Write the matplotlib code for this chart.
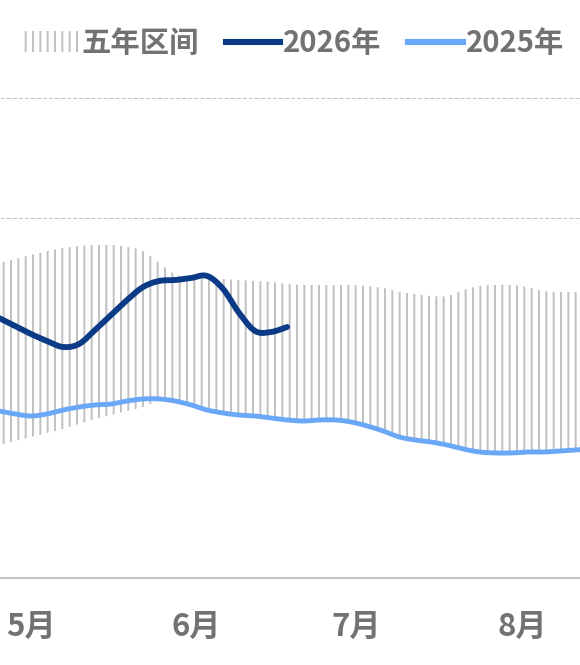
import numpy as np
import pandas as pd
import matplotlib
matplotlib.use('Agg')
import matplotlib.pyplot as plt
import matplotlib.dates as mdates
from matplotlib.patches import Patch
from matplotlib.lines import Line2D

plt.rcParams['font.family'] = ['Noto Sans CJK SC', 'DejaVu Sans']
plt.rcParams['hatch.linewidth'] = 1.6

# sample dates, every 3 days from Apr 25
dates = pd.date_range('2026-04-25', periods=38, freq='3D')

# five-year range
range_high = [262.5, 265.8, 269.2, 272.5, 275.0, 276.7, 277.5, 277.5, 275.8, 272.5,
              262.5, 253.3, 250.0, 249.2, 249.2, 248.3, 247.5, 246.7, 245.0, 244.2,
              244.2, 244.2, 244.2, 243.3, 241.7, 238.3, 236.7, 235.0, 235.0, 240.0,
              243.3, 244.2, 244.2, 242.5, 239.2, 238.3, 238.3, 238.3]
range_low = [110.8, 114.2, 117.5, 120.8, 124.2, 128.3, 132.5, 135.8, 139.2, 142.5,
             147.5, 146.5, 143.2, 139.0, 136.5, 134.8, 134.0, 132.3, 130.7, 129.8,
             130.7, 130.7, 129.0, 125.7, 121.5, 116.5, 114.0, 112.3, 109.8, 106.5,
             104.0, 103.2, 103.2, 104.0, 104.0, 104.8, 105.7, 106.5]

y2025 = [139.2, 136.7, 135.0, 136.7, 140.0, 142.5, 144.2, 145.0, 147.5, 149.2,
         149.2, 147.5, 144.2, 140.0, 137.5, 135.8, 135.0, 133.3, 131.7, 130.8,
         131.7, 131.7, 130.0, 126.7, 122.5, 117.5, 115.0, 113.3, 110.8, 107.5,
         105.0, 104.2, 104.2, 105.0, 105.0, 105.8, 106.7, 107.5]

y2026 = [216.7, 210.0, 203.3, 197.5, 192.5, 195.0, 206.7, 219.2, 231.7, 242.5,
         247.5, 248.3, 250.0, 251.7, 240.8, 220.8, 205.8, 205.0, 209.2]

month_ticks = ['2026-05-01', '2026-06-01', '2026-07-01', '2026-08-01']
month_labels = ['5月', '6月', '7月', '8月']

c2026 = '#0b3a86'
c2025 = '#6aa8f7'
grey_txt = '#727272'
hatch_c = '#c0c0c0'


def smooth(xs, ys, n=10):
    # catmull-rom curve through the points (drawing only, like a smoothed line)
    x = np.asarray(mdates.date2num(xs), float)
    y = np.asarray(ys, float)
    px = np.concatenate([[2 * x[0] - x[1]], x, [2 * x[-1] - x[-2]]])
    py = np.concatenate([[2 * y[0] - y[1]], y, [2 * y[-1] - y[-2]]])
    t = np.linspace(0, 1, n, endpoint=False)[:, None]
    out_x, out_y = [], []
    for p in (px, py):
        p0, p1, p2, p3 = p[:-3], p[1:-2], p[2:-1], p[3:]
        seg = 0.5 * (2 * p1 + (-p0 + p2) * t + (2 * p0 - 5 * p1 + 4 * p2 - p3) * t ** 2
                     + (-p0 + 3 * p1 - 3 * p2 + p3) * t ** 3)
        (out_x if p is px else out_y).append(np.concatenate([seg.T.ravel(), [p[-2]]]))
    return out_x[0], out_y[0]


dpi = 88
fig = plt.figure(figsize=(580 / dpi, 665 / dpi), dpi=dpi)
ax = fig.add_axes([0, 87 / 665, 1, (578 - 95.6) / 665])

sx, s_hi = smooth(dates, range_high)
_, s_lo = smooth(dates, range_low)
# white base hides the grid below the range top
ax.fill_between(sx, 0, s_hi, facecolor='white', linewidth=0, zorder=1)
ax.fill_between(sx, s_lo, s_hi, facecolor='white', edgecolor=hatch_c,
                hatch='||', linewidth=0, zorder=2)
ax.plot(*smooth(dates, y2025), color=c2025, linewidth=4.0, solid_capstyle='round', zorder=3)
ax.plot(*smooth(dates[:len(y2026)], y2026), color=c2026, linewidth=4.8,
        solid_capstyle='round', solid_joinstyle='round', zorder=4)

may1 = pd.Timestamp('2026-05-01')
ax.set_xlim(mdates.date2num(may1) - 5.81, mdates.date2num(may1) + 102.87)
ax.set_ylim(0, 402)
ax.set_yticks([0, 100, 200, 300, 400])
ax.yaxis.grid(True, color='#c8c8c8', linewidth=0.9, linestyle=(0, (4, 1.5)), zorder=0)
ax.set_axisbelow(True)
ax.tick_params(axis='y', left=False, labelleft=False)

ax.set_xticks(mdates.date2num(pd.to_datetime(month_ticks)))
ax.set_xticklabels(month_labels, fontsize=25.5, fontweight='bold', color=grey_txt)
ax.tick_params(axis='x', direction='in', length=8, width=1.4, color='#c8c8c8', pad=27)

for s in ['top', 'left', 'right']:
    ax.spines[s].set_visible(False)
ax.spines['bottom'].set_color('#c4c4c4')
ax.spines['bottom'].set_linewidth(1.8)
ax.spines['bottom'].set_zorder(5)

handles = [Patch(facecolor='white', edgecolor=hatch_c, hatch='||', linewidth=0),
           Line2D([], [], color=c2026, linewidth=5),
           Line2D([], [], color=c2025, linewidth=5)]
leg = fig.legend(handles, ['五年区间', '2026年', '2025年'], ncol=3, frameon=False,
                 loc='center left', bbox_to_anchor=(24 / 580, 1 - 43 / 665),
                 prop={'size': 24, 'weight': 'bold'}, handlelength=1.85,
                 handletextpad=0.12, columnspacing=0.9, borderpad=0, borderaxespad=0)
for t in leg.get_texts():
    t.set_color(grey_txt)

plt.savefig('out.png', dpi=dpi)
